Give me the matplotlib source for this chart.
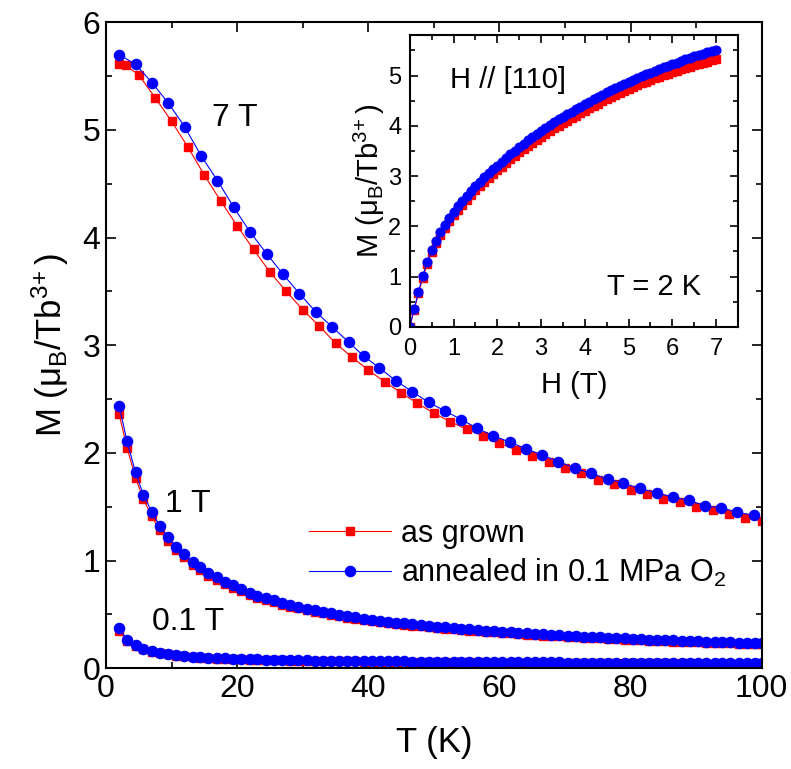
import matplotlib.pyplot as plt
import matplotlib.ticker as ticker

plt.rcParams['font.family'] = ['Liberation Sans', 'DejaVu Sans']
plt.rcParams['mathtext.default'] = 'regular'

# 7 T curves
t_7T_grown = [2, 3, 5, 7.5, 10, 12.5, 15, 17.5, 20, 22.5,
              25, 27.5, 30, 32.5, 35, 37.5, 40, 42.5, 45, 47.5,
              50, 52.5, 55, 57.5, 60, 62.5, 65, 67.5, 70, 72.5,
              75, 77.5, 80, 82.5, 85, 87.5, 90, 92.5, 95, 97.5, 100]
m_7T_grown = [5.61, 5.60, 5.51, 5.30, 5.08, 4.84, 4.58, 4.34, 4.11, 3.89,
              3.68, 3.50, 3.33, 3.18, 3.02, 2.89, 2.77, 2.66, 2.56, 2.46,
              2.37, 2.29, 2.22, 2.16, 2.09, 2.03, 1.97, 1.92, 1.86, 1.81,
              1.75, 1.71, 1.66, 1.62, 1.57, 1.54, 1.50, 1.47, 1.43, 1.40, 1.37]
t_7T_ann = [2, 4.5, 7, 9.5, 12, 14.5, 17, 19.5, 22, 24.5,
            27, 29.5, 32, 34.5, 37, 39.3, 41.7, 44.2, 46.7, 49.2,
            51.7, 54.2, 56.6, 59, 61.6, 64, 66.5, 69, 71.5, 73.9,
            76.5, 78.9, 81.4, 84, 86.4, 88.9, 91.3, 93.8, 96.3, 98.8]
m_7T_ann = [5.70, 5.61, 5.44, 5.25, 5.03, 4.76, 4.53, 4.28, 4.05, 3.85,
            3.66, 3.48, 3.31, 3.17, 3.03, 2.90, 2.79, 2.67, 2.57, 2.47,
            2.39, 2.31, 2.23, 2.16, 2.10, 2.04, 1.98, 1.92, 1.86, 1.81,
            1.76, 1.72, 1.67, 1.63, 1.59, 1.56, 1.51, 1.49, 1.45, 1.42]

# 1 T and 0.1 T curves share the temperature grid
t_low = [2.0, 3.2, 4.5, 5.7, 7.0, 8.2, 9.4, 10.7, 11.9, 13.2,
         14.4, 15.6, 16.9, 18.1, 19.4, 20.6, 21.9, 23.1, 24.4, 25.6,
         26.9, 28.1, 29.3, 30.6, 31.8, 33.1, 34.3, 35.6, 36.8, 38.0,
         39.3, 40.5, 41.8, 43.0, 44.3, 45.5, 46.7, 48.0, 49.2, 50.5,
         51.7, 53.0, 54.2, 55.4, 56.7, 57.9, 59.2, 60.4, 61.7, 62.9,
         64.2, 65.4, 66.6, 67.9, 69.1, 70.4, 71.6, 72.9, 74.1, 75.3,
         76.6, 77.8, 79.1, 80.3, 81.6, 82.8, 84.1, 85.3, 86.5, 87.8,
         89.0, 90.3, 91.5, 92.8, 94.0, 95.2, 96.5, 97.7, 99.0, 100.0]
m_1T_ann = [2.44, 2.11, 1.82, 1.61, 1.45, 1.32, 1.22, 1.13, 1.06, 0.99,
            0.94, 0.885, 0.845, 0.80, 0.77, 0.735, 0.70, 0.675, 0.655, 0.63,
            0.61, 0.59, 0.573, 0.555, 0.538, 0.524, 0.510, 0.497, 0.485, 0.473,
            0.462, 0.452, 0.442, 0.433, 0.424, 0.416, 0.408, 0.400, 0.393, 0.386,
            0.379, 0.373, 0.367, 0.361, 0.355, 0.349, 0.344, 0.338, 0.333, 0.328,
            0.323, 0.319, 0.314, 0.310, 0.306, 0.302, 0.298, 0.294, 0.290, 0.287,
            0.283, 0.280, 0.277, 0.273, 0.270, 0.267, 0.264, 0.261, 0.259, 0.256,
            0.253, 0.251, 0.248, 0.246, 0.243, 0.241, 0.239, 0.237, 0.234, 0.232]
m_1T_grown = [2.36, 2.05, 1.77, 1.57, 1.41, 1.28, 1.18, 1.10, 1.03, 0.96,
              0.91, 0.86, 0.82, 0.78, 0.745, 0.715, 0.68, 0.655, 0.635, 0.612,
              0.592, 0.573, 0.556, 0.539, 0.523, 0.509, 0.495, 0.482, 0.470, 0.459,
              0.448, 0.438, 0.429, 0.420, 0.411, 0.403, 0.395, 0.388, 0.381, 0.374,
              0.367, 0.361, 0.355, 0.349, 0.344, 0.338, 0.333, 0.328, 0.323, 0.318,
              0.313, 0.309, 0.304, 0.300, 0.296, 0.292, 0.288, 0.284, 0.280, 0.277,
              0.273, 0.270, 0.267, 0.263, 0.260, 0.257, 0.254, 0.251, 0.248, 0.246,
              0.243, 0.240, 0.238, 0.235, 0.233, 0.230, 0.228, 0.226, 0.223, 0.221]
m_01T_ann = [0.372, 0.266, 0.213, 0.183, 0.161, 0.146, 0.133, 0.122, 0.114, 0.108,
             0.102, 0.098, 0.094, 0.091, 0.088, 0.086, 0.084, 0.082, 0.080, 0.078,
             0.077, 0.075, 0.074, 0.073, 0.072, 0.071, 0.070, 0.069, 0.068, 0.067,
             0.066, 0.065, 0.065, 0.064, 0.063, 0.063, 0.062, 0.061, 0.061, 0.060,
             0.060, 0.059, 0.059, 0.058, 0.058, 0.057, 0.057, 0.056, 0.056, 0.056,
             0.055, 0.055, 0.054, 0.054, 0.054, 0.053, 0.053, 0.053, 0.052, 0.052,
             0.052, 0.051, 0.051, 0.051, 0.050, 0.050, 0.050, 0.050, 0.049, 0.049,
             0.049, 0.048, 0.048, 0.048, 0.048, 0.047, 0.047, 0.047, 0.047, 0.046]
m_01T_grown = [0.350, 0.255, 0.205, 0.176, 0.155, 0.140, 0.128, 0.117, 0.110, 0.104,
               0.098, 0.094, 0.090, 0.087, 0.084, 0.082, 0.080, 0.078, 0.076, 0.074,
               0.073, 0.071, 0.070, 0.069, 0.068, 0.067, 0.066, 0.065, 0.064, 0.063,
               0.062, 0.061, 0.061, 0.060, 0.059, 0.059, 0.058, 0.057, 0.057, 0.056,
               0.056, 0.055, 0.055, 0.054, 0.054, 0.053, 0.053, 0.052, 0.052, 0.052,
               0.051, 0.051, 0.050, 0.050, 0.050, 0.049, 0.049, 0.049, 0.048, 0.048,
               0.048, 0.047, 0.047, 0.047, 0.046, 0.046, 0.046, 0.046, 0.045, 0.045,
               0.045, 0.044, 0.044, 0.044, 0.044, 0.043, 0.043, 0.043, 0.043, 0.042]

# inset: M(H) at 2 K
h_field = [0.0, 0.1, 0.2, 0.3, 0.4, 0.5, 0.6, 0.7, 0.8, 0.9,
           1.0, 1.1, 1.2, 1.3, 1.4, 1.5, 1.6, 1.7, 1.8, 1.9,
           2.0, 2.1, 2.2, 2.3, 2.4, 2.5, 2.6, 2.7, 2.8, 2.9,
           3.0, 3.1, 3.2, 3.3, 3.4, 3.5, 3.6, 3.7, 3.8, 3.9,
           4.0, 4.1, 4.2, 4.3, 4.4, 4.5, 4.6, 4.7, 4.8, 4.9,
           5.0, 5.1, 5.2, 5.3, 5.4, 5.5, 5.6, 5.7, 5.8, 5.9,
           6.0, 6.1, 6.2, 6.3, 6.4, 6.5, 6.6, 6.7, 6.8, 6.9, 7.0]
mh_ann = [0.00, 0.35, 0.70, 1.02, 1.29, 1.52, 1.71, 1.88, 2.03, 2.16,
          2.28, 2.40, 2.51, 2.61, 2.71, 2.80, 2.89, 2.98, 3.06, 3.14,
          3.21, 3.28, 3.36, 3.43, 3.50, 3.57, 3.64, 3.71, 3.77, 3.84,
          3.90, 3.96, 4.02, 4.07, 4.13, 4.18, 4.23, 4.28, 4.33, 4.38,
          4.43, 4.48, 4.53, 4.58, 4.62, 4.67, 4.71, 4.76, 4.80, 4.84,
          4.88, 4.92, 4.96, 4.99, 5.03, 5.06, 5.10, 5.13, 5.17, 5.20,
          5.23, 5.26, 5.29, 5.32, 5.35, 5.38, 5.40, 5.43, 5.46, 5.48, 5.51]
mh_grown = [0.00, 0.33, 0.67, 0.98, 1.25, 1.48, 1.67, 1.83, 1.97, 2.10,
            2.22, 2.33, 2.43, 2.53, 2.63, 2.72, 2.81, 2.89, 2.97, 3.05,
            3.12, 3.19, 3.26, 3.33, 3.40, 3.47, 3.53, 3.60, 3.66, 3.72,
            3.78, 3.84, 3.89, 3.95, 4.00, 4.05, 4.10, 4.15, 4.20, 4.25,
            4.30, 4.35, 4.40, 4.44, 4.49, 4.53, 4.57, 4.62, 4.66, 4.70,
            4.74, 4.78, 4.81, 4.85, 4.88, 4.91, 4.95, 4.98, 5.01, 5.04,
            5.07, 5.10, 5.13, 5.15, 5.18, 5.21, 5.23, 5.26, 5.28, 5.31, 5.33]

RED = '#ff0000'
BLUE = '#0000ff'
M_LABEL = r'M (μ$_B$/Tb$^{3\!+}$)'


def style_axes(ax, size, major_len, minor_len, pad):
    ax.tick_params(which='both', direction='in', top=True, right=True,
                   labelsize=size, width=1.2, pad=pad)
    ax.tick_params(which='major', length=major_len)
    ax.tick_params(which='minor', length=minor_len)
    for sp in ax.spines.values():
        sp.set_linewidth(1.5)


fig = plt.figure(figsize=(7.91, 7.69), dpi=100)
ax = fig.add_axes([0.134, 0.131, 0.829, 0.840])

sq = dict(color=RED, marker='s', markersize=6.3, linewidth=0.8)
ci = dict(color=BLUE, marker='o', markersize=7.3, linewidth=0.8)

ax.plot(t_7T_grown, m_7T_grown, label='as grown', **sq)
ax.plot(t_low, m_1T_grown, **sq)
ax.plot(t_low, m_01T_grown, **sq)
ax.plot(t_7T_ann, m_7T_ann, label=r'annealed in 0.1 MPa O$_2$', **ci)
ax.plot(t_low, m_1T_ann, **ci)
ax.plot(t_low, m_01T_ann, **ci)

ax.set_xlim(0, 100)
ax.set_ylim(0, 6)
ax.xaxis.set_major_locator(ticker.MultipleLocator(20))
ax.xaxis.set_minor_locator(ticker.MultipleLocator(10))
ax.yaxis.set_major_locator(ticker.MultipleLocator(1))
ax.yaxis.set_minor_locator(ticker.MultipleLocator(0.5))
style_axes(ax, 23, 7, 4, 4)
ax.set_xlabel('T (K)', fontsize=25, labelpad=16)
ax.set_ylabel(M_LABEL, fontsize=25, labelpad=8)

ax.text(16.1, 5.11, '7 T', fontsize=23, va='center')
ax.text(9.0, 1.53, '1 T', fontsize=23, va='center')
ax.text(7.0, 0.43, '0.1 T', fontsize=23, va='center')

ax.legend(loc='upper left', bbox_to_anchor=(0.31, 0.231), frameon=False,
          fontsize=22, handlelength=2.68, handletextpad=0.33,
          labelspacing=0.25, borderpad=0, borderaxespad=0)

# inset
axin = fig.add_axes([0.518, 0.575, 0.415, 0.379])
axin.plot(h_field, mh_grown, color=RED, marker='s', markersize=5.8, linewidth=0.8)
axin.plot(h_field, mh_ann, color=BLUE, marker='o', markersize=6.3, linewidth=0.8)
axin.set_xlim(0, 7.5)
axin.set_ylim(0, 5.8)
axin.xaxis.set_major_locator(ticker.MultipleLocator(1))
axin.xaxis.set_minor_locator(ticker.MultipleLocator(0.5))
axin.yaxis.set_major_locator(ticker.MultipleLocator(1))
axin.yaxis.set_minor_locator(ticker.MultipleLocator(0.5))
style_axes(axin, 17, 6, 3.5, 6)
axin.tick_params(axis='x', pad=8)
axin.set_xlabel('H (T)', fontsize=21, labelpad=8)
axin.set_ylabel(M_LABEL, fontsize=21, labelpad=1)
axin.text(0.91, 4.91, 'H // [110]', fontsize=21, va='center')
axin.text(4.5, 0.80, 'T = 2 K', fontsize=21, va='center')

fig.savefig('out.png', dpi=100)
